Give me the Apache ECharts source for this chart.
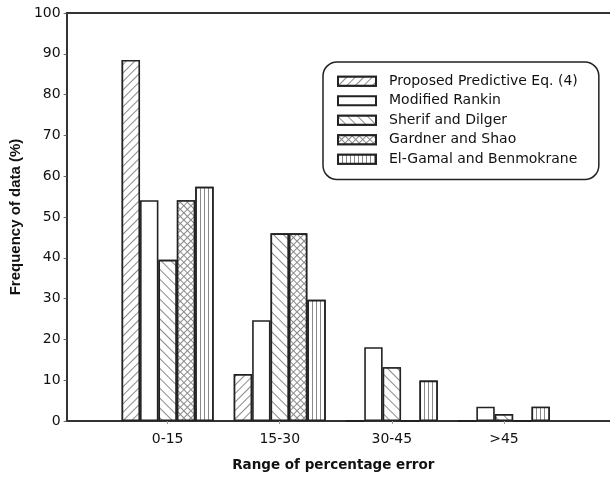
<!DOCTYPE html>
<html>
<head>
<meta charset="utf-8">
<script src="https://cdn.jsdelivr.net/npm/echarts@6/dist/echarts.min.js"></script>
<style>
  html, body { margin: 0; padding: 0; background: #fff; }
  #chart { width: 610px; height: 477px; }
</style>
</head>
<body>
<div id="chart"></div>
<script>
// Error ranges on the horizontal axis
const categories = ['0-15', '15-30', '30-45', '>45'];

// Frequency of data (%) per error range, one array per model
const proposedEq4    = [88.5, 11.5, 0, 0];
const modifiedRankin = [54.1, 24.7, 18.1, 3.5];
const sherifDilger   = [39.5, 46.0, 13.2, 1.7];
const gardnerShao    = [54.1, 46.0, 0, 0];
const elGamal        = [57.4, 29.7, 9.9, 3.5];

const seriesNames = [
  'Proposed Predictive Eq. (4)',
  'Modified Rankin',
  'Sherif and Dilger',
  'Gardner and Shao',
  'El-Gamal and Benmokrane'
];
const seriesValues = [proposedEq4, modifiedRankin, sherifDilger, gardnerShao, elGamal];

// y-axis ticks
const yTicks = { min: 0, max: 100, step: 10 };

const FONT = '"DejaVu Sans", "Liberation Sans", sans-serif';
const FONT_NARROW = '"Liberation Sans", Arial, sans-serif';
const HATCH = '#8a8a8a';

// Hatch fills for each model
const decals = [
  { symbol: 'rect', symbolSize: 1, dashArrayX: [1, 0], dashArrayY: [1, 5], rotation: -Math.PI / 4, color: HATCH, backgroundColor: '#fff' },
  null,
  { symbol: 'rect', symbolSize: 1, dashArrayX: [1, 0], dashArrayY: [1, 6], rotation: Math.PI / 4, color: HATCH, backgroundColor: '#fff' },
  { symbol: 'rect', symbolSize: 1, dashArrayX: [[1, 0], [1, 4]], dashArrayY: [1, 0, 4, 0], rotation: Math.PI / 4, color: HATCH, backgroundColor: '#fff' },
  { symbol: 'rect', symbolSize: 1, dashArrayX: [1, 3], dashArrayY: [1, 0], rotation: 0, color: HATCH, backgroundColor: '#fff' }
];

const chart = echarts.init(document.getElementById('chart'), null, { renderer: 'canvas' });

const series = seriesNames.map((name, s) => {
  const itemStyle = { color: '#fff', borderColor: '#222', borderWidth: 1.6 };
  if (decals[s]) itemStyle.decal = decals[s];
  return {
    name: name,
    type: 'bar',
    barWidth: 18.4,
    barGap: '0%',
    itemStyle: itemStyle,
    emphasis: { disabled: true },
    data: seriesValues[s].map((v, i) => [i, v])
  };
});

// category positions on a numeric axis so the frame can extend past the bars
const catIdx = categories.map((c, i) => i);

chart.setOption({
  animation: false,
  backgroundColor: '#fff',
  textStyle: { fontFamily: FONT },
  grid: { left: 66, right: -10, top: 13, bottom: 56, show: false },
  legend: {
    orient: 'vertical',
    left: 323,
    top: 62,
    padding: [11, 21, 12, 14],
    itemWidth: 38,
    itemHeight: 9,
    itemGap: 3,
    icon: 'rect',
    borderColor: '#222',
    borderWidth: 1.5,
    borderRadius: 14,
    backgroundColor: '#fff',
    textStyle: { fontFamily: FONT, fontSize: 14, color: '#111', lineHeight: 16.5, padding: [0, 0, 0, 8] },
    data: seriesNames
  },
  xAxis: [{
    type: 'value',
    min: -0.901,
    max: 3.946,
    splitLine: { show: false },
    axisLine: { show: true, onZero: false, lineStyle: { color: '#333', width: 2 } },
    axisTick: { show: true, customValues: catIdx, length: 3, lineStyle: { color: '#999' } },
    axisLabel: {
      customValues: catIdx,
      formatter: v => categories[Math.round(v)],
      fontSize: 14, color: '#111', margin: 11, fontFamily: FONT
    },
    name: 'Range of percentage error',
    nameLocation: 'middle',
    nameGap: 37,
    nameTextStyle: { fontSize: 13.5, fontWeight: 'bold', color: '#111', fontFamily: FONT, padding: [0, 10, 0, 0] }
  }, {
    type: 'value',
    position: 'top',
    min: -0.901,
    max: 3.946,
    splitLine: { show: false },
    axisLine: { show: true, onZero: false, lineStyle: { color: '#333', width: 2 } },
    axisTick: { show: false },
    axisLabel: { show: false }
  }],
  yAxis: {
    type: 'value',
    min: yTicks.min,
    max: yTicks.max,
    interval: yTicks.step,
    splitLine: { show: false },
    axisLine: { show: true, onZero: false, lineStyle: { color: '#333', width: 2 } },
    axisTick: { show: true, length: 3, lineStyle: { color: '#666' } },
    axisLabel: { fontSize: 14, color: '#111', margin: 6, fontFamily: FONT },
    name: 'Frequency of data (%)',
    nameLocation: 'middle',
    nameGap: 40,
    nameTextStyle: { fontSize: 15, fontWeight: 'bold', color: '#111', fontFamily: FONT_NARROW }
  },
  series: series
});
</script>
</body>
</html>
